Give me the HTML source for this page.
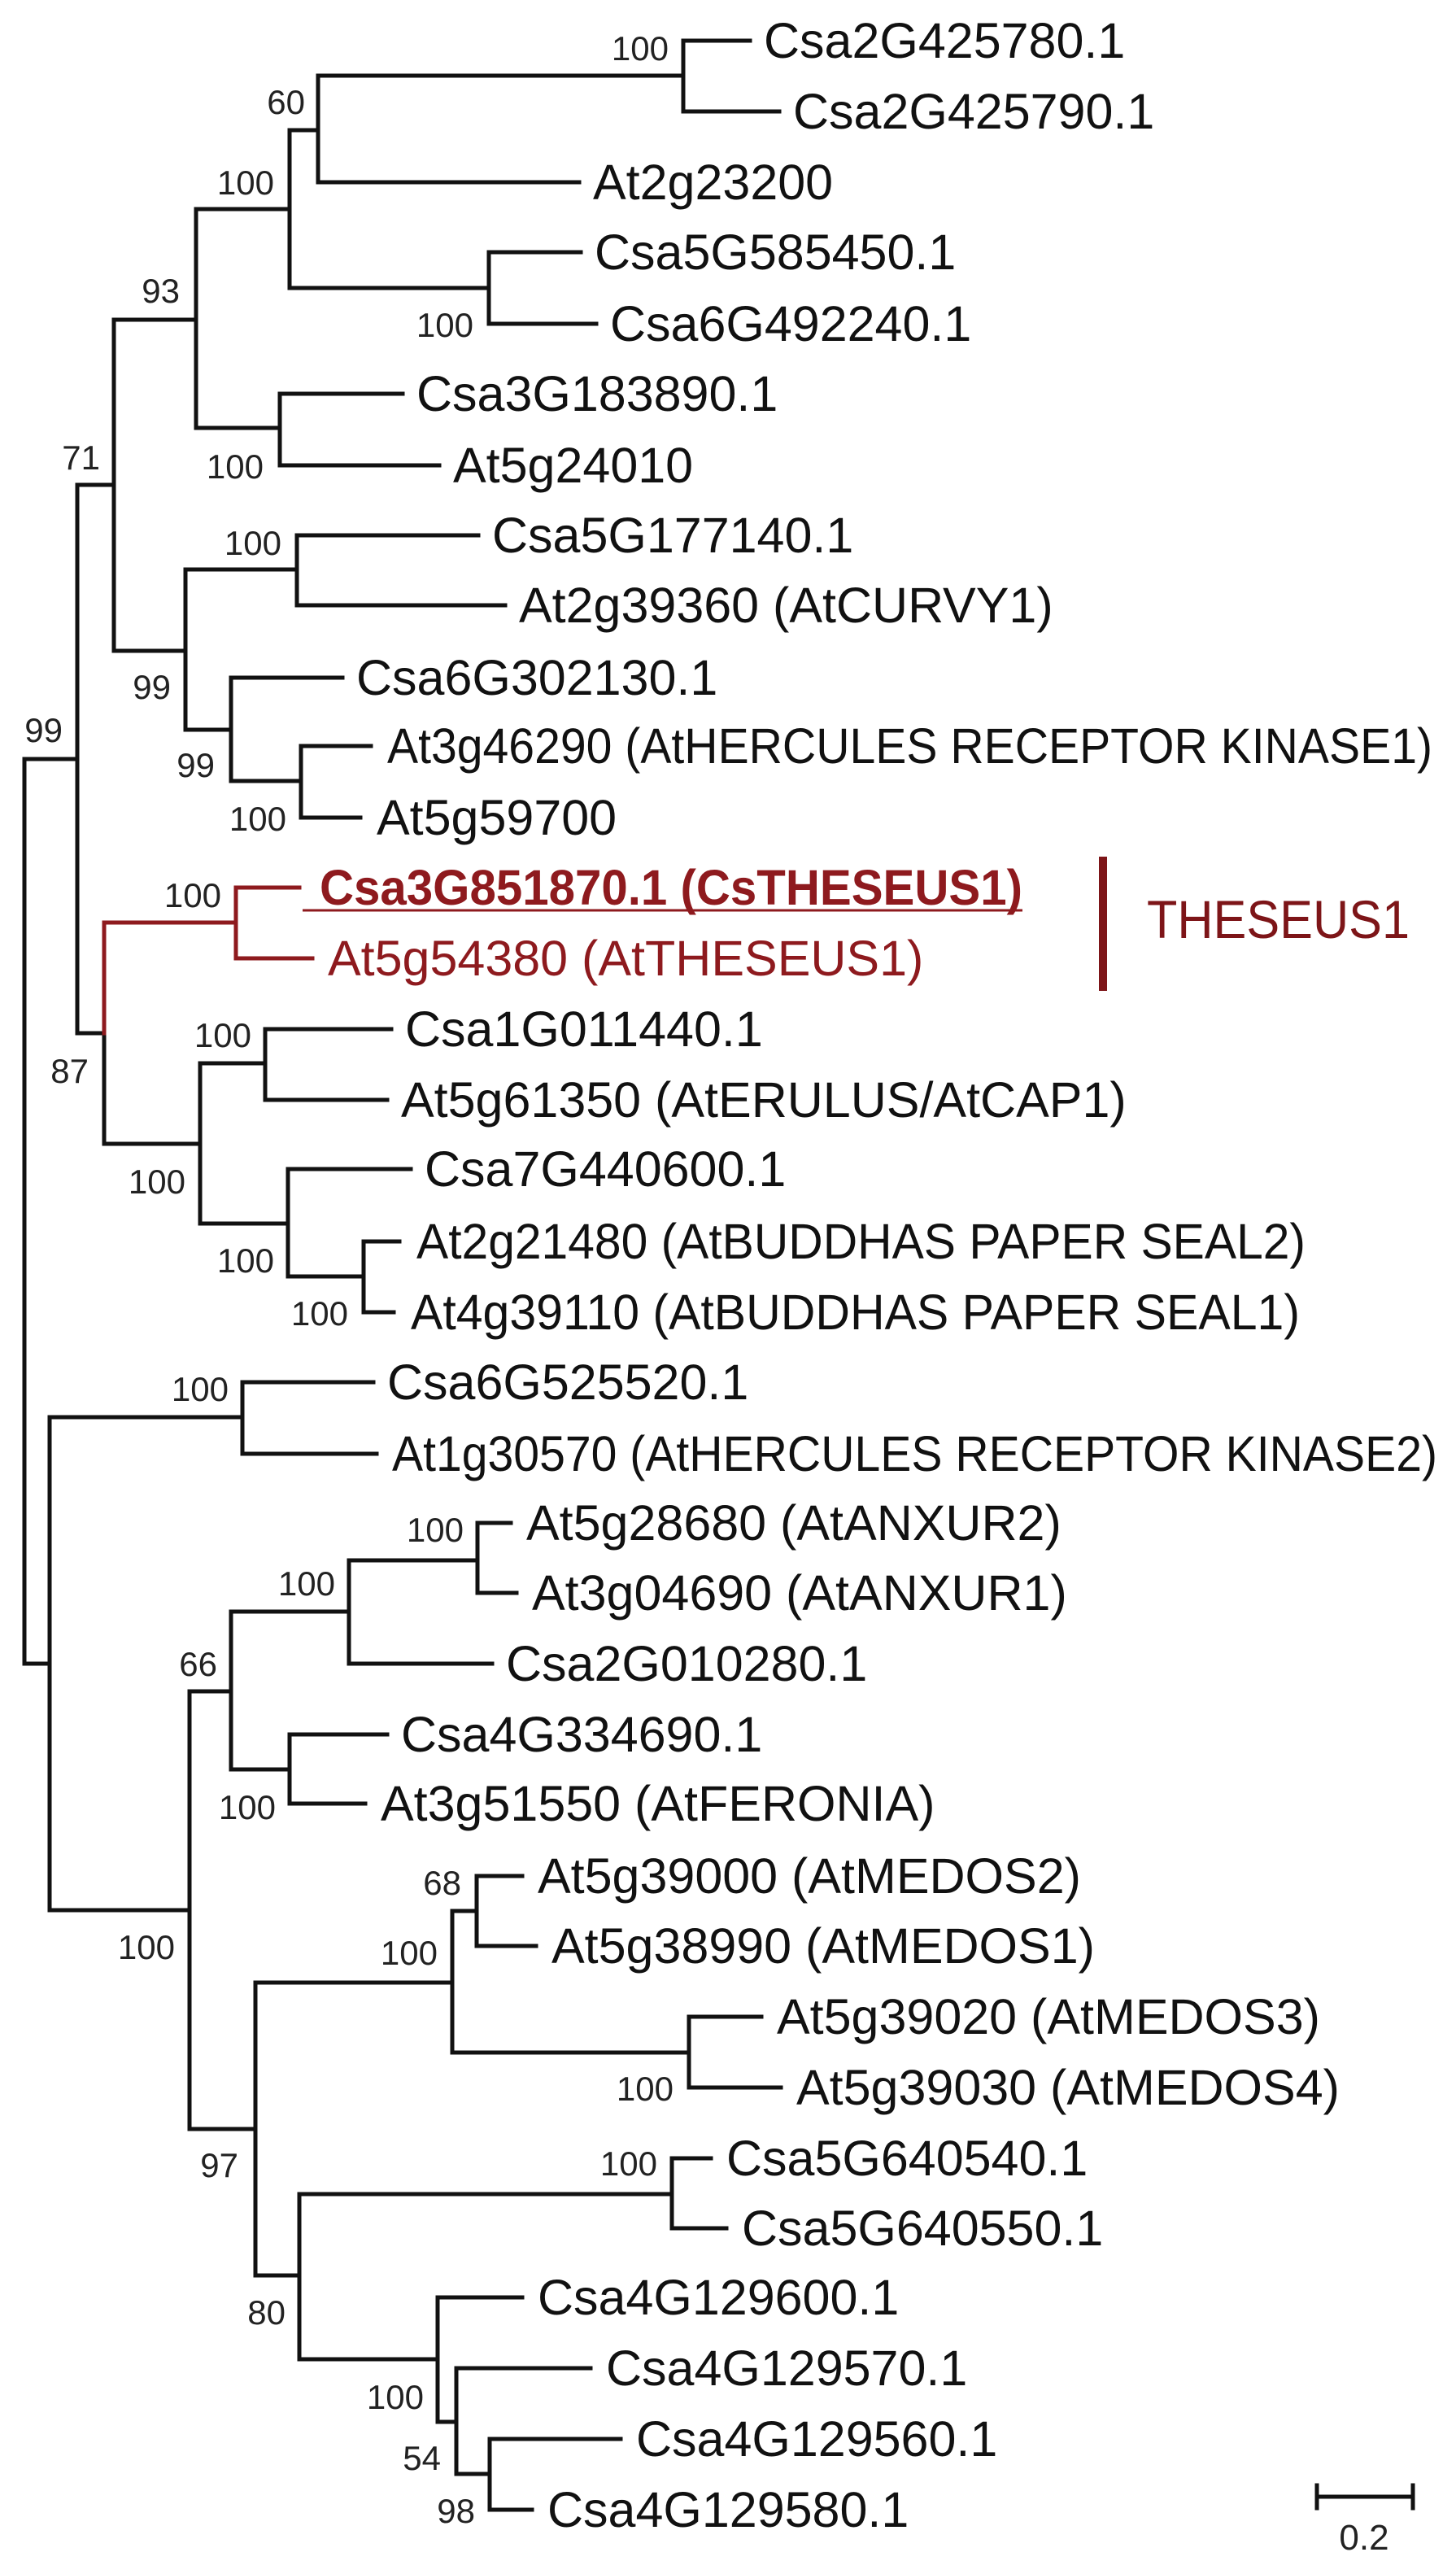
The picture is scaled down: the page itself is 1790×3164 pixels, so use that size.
<!DOCTYPE html>
<html><head><meta charset="utf-8"><style>
html,body{margin:0;padding:0;background:#fff;}
svg{display:block;}
.l{font-family:"Liberation Sans",sans-serif;font-size:61px;fill:#111;}
.b{font-family:"Liberation Sans",sans-serif;font-size:42px;fill:#222;text-anchor:end;}
.r{fill:#8e1a1e;}
</style></head><body>
<svg width="1790" height="3164" viewBox="0 0 1790 3164" xmlns="http://www.w3.org/2000/svg">
<g fill="none" stroke="#111" stroke-width="5" stroke-linecap="square">
<!-- root -->
<path d="M30 933V2045H61"/>
<path d="M30 933H95"/>
<path d="M95 596V1270H128"/>
<path d="M95 596H140"/>
<path d="M140 393V800H228"/>
<path d="M140 393H241"/>
<path d="M241 257V526H344"/>
<path d="M241 257H356"/>
<path d="M356 160V354H601"/>
<path d="M356 160H391"/>
<path d="M391 93V224H712"/>
<path d="M391 93H840"/>
<path d="M840 50V137H958"/>
<path d="M840 50H922"/>
<path d="M601 310V398H733"/>
<path d="M601 310H714"/>
<path d="M344 484V572H540"/>
<path d="M344 484H495"/>
<path d="M228 700V897H284"/>
<path d="M228 700H365"/>
<path d="M365 658V744H621"/>
<path d="M365 658H588"/>
<path d="M284 833V960H370"/>
<path d="M284 833H421"/>
<path d="M370 917V1005H443"/>
<path d="M370 917H456"/>
<!-- 87 -->
<path d="M128 1270V1406H246"/>
<path d="M246 1307V1504H354"/>
<path d="M246 1307H326"/>
<path d="M326 1265V1352H476"/>
<path d="M326 1265H481"/>
<path d="M354 1437V1569H447"/>
<path d="M354 1437H505"/>
<path d="M447 1526V1613H484"/>
<path d="M447 1526H491"/>
<!-- lower -->
<path d="M61 1742V2348H233"/>
<path d="M61 1742H298"/>
<path d="M298 1699V1787H463"/>
<path d="M298 1699H459"/>
<path d="M233 2079V2617H314"/>
<path d="M233 2079H284"/>
<path d="M284 1981V2175H356"/>
<path d="M284 1981H429"/>
<path d="M429 1918V2045H605"/>
<path d="M429 1918H587"/>
<path d="M587 1872V1958H635"/>
<path d="M587 1872H628"/>
<path d="M356 2132V2217H449"/>
<path d="M356 2132H476"/>
<path d="M314 2437V2797H368"/>
<path d="M314 2437H556"/>
<path d="M556 2349V2523H847"/>
<path d="M556 2349H586"/>
<path d="M586 2306V2392H659"/>
<path d="M586 2306H642"/>
<path d="M847 2479V2566H960"/>
<path d="M847 2479H936"/>
<path d="M368 2697V2900H538"/>
<path d="M368 2697H826"/>
<path d="M826 2653V2739H893"/>
<path d="M826 2653H874"/>
<path d="M538 2824V2977H561"/>
<path d="M538 2824H642"/>
<path d="M561 2911V3041H602"/>
<path d="M561 2911H726"/>
<path d="M602 2998V3085H654"/>
<path d="M602 2998H763"/>
<!-- scale bar -->
<path d="M1619 3069H1737M1619 3055V3083M1737 3055V3083"/>
</g>
<g fill="none" stroke="#8e1a1e" stroke-width="5" stroke-linecap="square">
<path d="M128 1270V1134H290"/>
<path d="M290 1091V1178H384"/>
<path d="M290 1091H368"/>
<path d="M372 1119H1257" stroke-width="3" stroke-linecap="butt"/>
<path d="M1356 1053V1218" stroke-width="10" stroke-linecap="butt" stroke="#7d1518"/>
</g>
<!-- leaf labels -->
<g class="l">
<text x="939" y="71">Csa2G425780.1</text>
<text x="975" y="158">Csa2G425790.1</text>
<text x="729" y="245">At2g23200</text>
<text x="731" y="331">Csa5G585450.1</text>
<text x="750" y="419">Csa6G492240.1</text>
<text x="512" y="505">Csa3G183890.1</text>
<text x="557" y="593">At5g24010</text>
<text x="605" y="679">Csa5G177140.1</text>
<text x="638" y="765">At2g39360 (AtCURVY1)</text>
<text x="438" y="854">Csa6G302130.1</text>
<text x="476" y="938" textLength="1285" lengthAdjust="spacingAndGlyphs">At3g46290 (AtHERCULES RECEPTOR KINASE1)</text>
<text x="463" y="1026">At5g59700</text>
<text x="393" y="1112" class="r" font-weight="bold" textLength="864" lengthAdjust="spacingAndGlyphs">Csa3G851870.1 (CsTHESEUS1)</text>
<text x="403" y="1199" class="r">At5g54380 (AtTHESEUS1)</text>
<text x="498" y="1286">Csa1G011440.1</text>
<text x="493" y="1373">At5g61350 (AtERULUS/AtCAP1)</text>
<text x="522" y="1458">Csa7G440600.1</text>
<text x="512" y="1547" textLength="1093" lengthAdjust="spacingAndGlyphs">At2g21480 (AtBUDDHAS PAPER SEAL2)</text>
<text x="505" y="1634" textLength="1093" lengthAdjust="spacingAndGlyphs">At4g39110 (AtBUDDHAS PAPER SEAL1)</text>
<text x="476" y="1720">Csa6G525520.1</text>
<text x="482" y="1808" textLength="1285" lengthAdjust="spacingAndGlyphs">At1g30570 (AtHERCULES RECEPTOR KINASE2)</text>
<text x="647" y="1893">At5g28680 (AtANXUR2)</text>
<text x="654" y="1979">At3g04690 (AtANXUR1)</text>
<text x="622" y="2066">Csa2G010280.1</text>
<text x="493" y="2153">Csa4G334690.1</text>
<text x="468" y="2238">At3g51550 (AtFERONIA)</text>
<text x="661" y="2327">At5g39000 (AtMEDOS2)</text>
<text x="678" y="2413">At5g38990 (AtMEDOS1)</text>
<text x="955" y="2500">At5g39020 (AtMEDOS3)</text>
<text x="979" y="2587">At5g39030 (AtMEDOS4)</text>
<text x="893" y="2674">Csa5G640540.1</text>
<text x="912" y="2760">Csa5G640550.1</text>
<text x="661" y="2845">Csa4G129600.1</text>
<text x="745" y="2932">Csa4G129570.1</text>
<text x="782" y="3019">Csa4G129560.1</text>
<text x="673" y="3106">Csa4G129580.1</text>
</g>
<!-- bootstrap -->
<g class="b">
<text x="822" y="74">100</text>
<text x="375" y="140">60</text>
<text x="337" y="239">100</text>
<text x="582" y="414">100</text>
<text x="221" y="372">93</text>
<text x="324" y="588">100</text>
<text x="123" y="577">71</text>
<text x="346" y="682">100</text>
<text x="210" y="859">99</text>
<text x="264" y="955">99</text>
<text x="352" y="1021">100</text>
<text x="77" y="912">99</text>
<text x="272" y="1115">100</text>
<text x="109" y="1331">87</text>
<text x="309" y="1287">100</text>
<text x="228" y="1467">100</text>
<text x="337" y="1564">100</text>
<text x="428" y="1629">100</text>
<text x="281" y="1722">100</text>
<text x="570" y="1895">100</text>
<text x="412" y="1961">100</text>
<text x="267" y="2060">66</text>
<text x="339" y="2236">100</text>
<text x="215" y="2408">100</text>
<text x="567" y="2329">68</text>
<text x="538" y="2415">100</text>
<text x="828" y="2582">100</text>
<text x="293" y="2676">97</text>
<text x="808" y="2674">100</text>
<text x="351" y="2857">80</text>
<text x="521" y="2961">100</text>
<text x="542" y="3036">54</text>
<text x="584" y="3101">98</text>
</g>
<text x="1410" y="1153" font-family="'Liberation Sans',sans-serif" font-size="66" fill="#7d1518" textLength="323" lengthAdjust="spacingAndGlyphs">THESEUS1</text>
<text x="1677" y="3134" font-family="'Liberation Sans',sans-serif" font-size="44" fill="#222" text-anchor="middle">0.2</text>
</svg>
</body></html>
